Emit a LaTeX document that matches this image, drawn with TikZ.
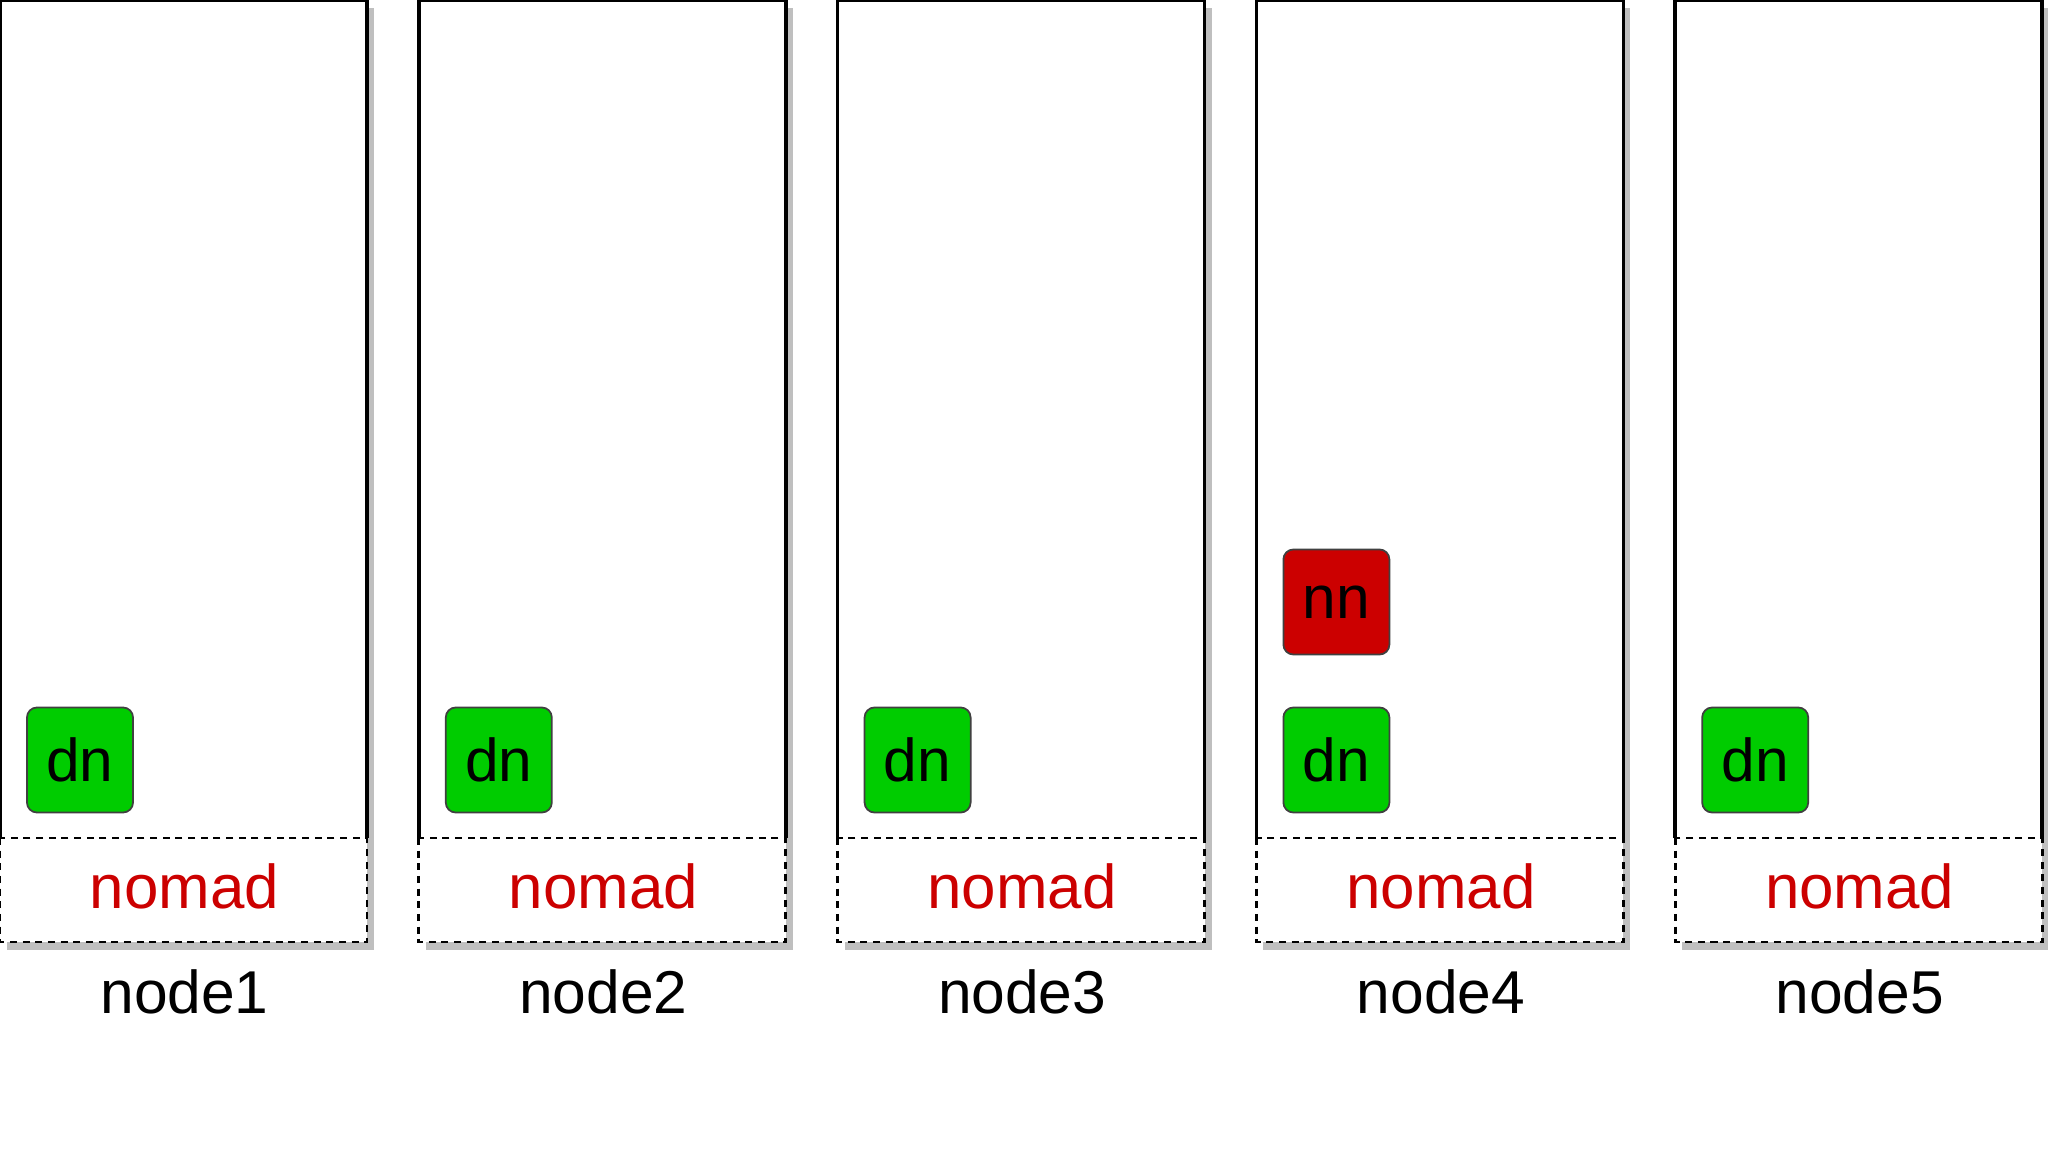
\documentclass[tikz,border=0pt]{standalone}
\usepackage{fontspec}
\setmainfont{Liberation Sans}
\usepackage{tikz}
\usetikzlibrary{positioning}
\definecolor{dngreen}{HTML}{00CC00}
\definecolor{nnred}{HTML}{CC0000}
\definecolor{shadowgray}{HTML}{BFBFBF}

\begin{document}
\begin{tikzpicture}[x=0.01cm, y=-0.01cm,
	frame/.style={line width=1pt, black},
	lowframe/.style={line width=0.8pt, black, dash pattern=on 2pt off 1.6pt},
	agent/.style={draw=black!75, line width=0.5pt, rounded corners=0.1cm, fill=dngreen,
		minimum width=1.06cm, minimum height=1.05cm, inner sep=0pt,
		font=\fontsize{17.2}{20}\selectfont},
	nomadtext/.style={anchor=base, text=nnred, font=\fontsize{17.6}{20}\selectfont},
	hosttext/.style={anchor=base, font=\fontsize{17.2}{20}\selectfont}]
\useasboundingbox (0, 0) rectangle (2048, 1152);
\foreach \i in {1,...,5} {
	\pgfmathsetmacro\x{(\i-1)*418.8}
	\fill[shadowgray] (\x+7, 8) rectangle (\x+374, 950);
	\fill[white] (\x, 0) rectangle (\x+367, 942);
	\draw[frame] (\x, 838) |- (\x+367, 0) -- (\x+367, 838);
	\draw[lowframe] (\x, 838) rectangle (\x+367, 942);
	\node[agent] (dn\i) at (\x+80, 760) {dn};
	\node[nomadtext] (nomad\i) at (\x+184.5, 908) {nomad};
	\node[hosttext] (host\i) at (\x+184.5, 1013) {node\i};
}
\node[agent, fill=nnred] (nn) at (1256.4+80, 602) {nn};
\end{tikzpicture}
\end{document}
